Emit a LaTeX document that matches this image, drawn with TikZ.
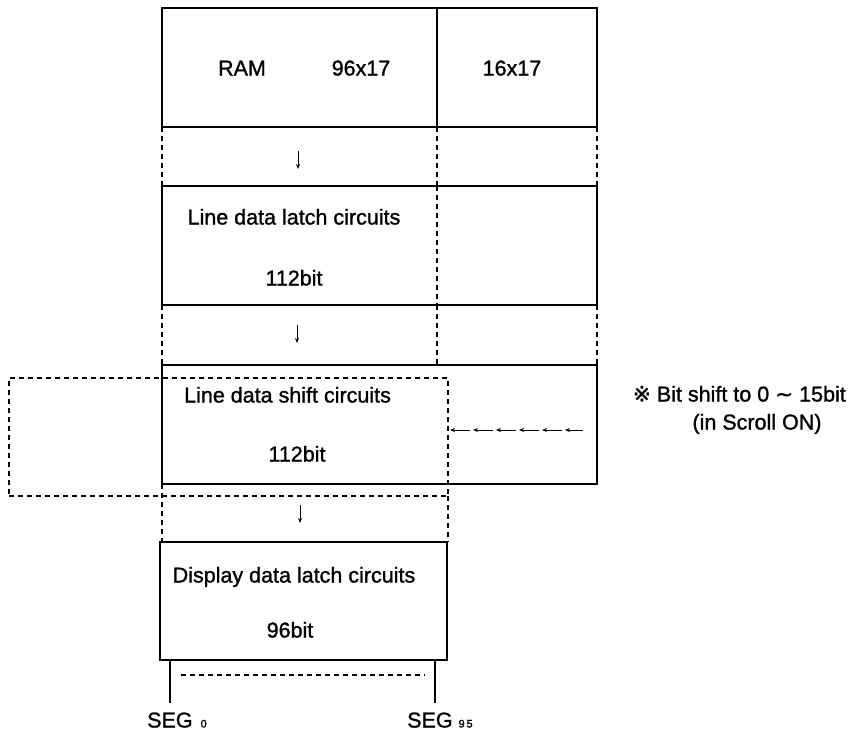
\documentclass[tikz,border=0pt]{standalone}
\usepackage{fontspec}
\setmainfont{Liberation Sans}[FakeBold=1.2]
\newfontfamily\dejavu{DejaVu Sans}[FakeBold=1.2]
\usetikzlibrary{arrows.meta}
\begin{document}
\begin{tikzpicture}[x=1pt,y=-1pt,
  box/.style={draw, line width=1.8pt, inner sep=0pt, outer sep=0pt},
  lbl/.style={font=\fontsize{21.5}{24}\selectfont, inner sep=0pt, text height=15pt, text depth=0pt},
  dsh/.style={line width=1.8pt, dash pattern=on 5pt off 4pt},
  sol/.style={line width=1.8pt},
  darr/.style={line width=0.8pt, -{Stealth[length=5pt,width=4pt]}},
  sarr/.style={line width=0.8pt, -{Stealth[length=5pt,width=4pt]}}
]
\useasboundingbox (0,0) rectangle (854,734);

% RAM box
\node[box, minimum width=435pt, minimum height=119pt] (ram) at (379.5,67.5) {};
\draw[sol] (437,8) -- (437,127);
\node[lbl] (tram) at (242,68) {RAM};
\node[lbl] (t9617) at (361,68) {96x17};
\node[lbl] (t1617) at (512,68) {16x17};

% gap 1
\foreach \xx in {162,437,597} \draw[dsh] (\xx,127) -- (\xx,186);
\coordinate (a1s) at (298,151);
\coordinate (a1e) at (298,169);
\draw[darr] (a1s) -- (a1e);

% latch box
\node[box, minimum width=435pt, minimum height=119pt] (latch) at (379.5,245.5) {};
\draw[dsh] (437,186) -- (437,305);
\node[lbl] (tlatch) at (294,217) {Line data latch circuits};
\node[lbl] (tlatchb) at (294,278) {112bit};

% gap 2
\foreach \xx in {162,437,597} \draw[dsh] (\xx,305) -- (\xx,365);
\coordinate (a2s) at (297,325);
\coordinate (a2e) at (297,343);
\draw[darr] (a2s) -- (a2e);

% shift box
\node[box, minimum width=435pt, minimum height=119pt] (shift) at (379.5,424.5) {};
\node[draw, dsh, inner sep=0pt, outer sep=0pt, minimum width=439pt, minimum height=118pt] (win) at (228.5,437) {};
\node[lbl, anchor=west] (tshift) at (184,395) {Line data shift circuits};
\node[lbl] (tshiftb) at (297,454) {112bit};

% shift arrows
\foreach \xs in {0,1,2,3,4} {
  \draw[sarr] ({470+\xs*23},430) -- ({450+\xs*23},430);
}
\coordinate (r1) at (583,430);
\coordinate (r2) at (565,430);
\draw[sarr] (r1) -- (r2);

% gap 3
\draw[dsh] (162,484) -- (162,542);
\draw[dsh] (448,496) -- (448,542);
\coordinate (a3s) at (300,505);
\coordinate (a3e) at (300,523);
\draw[darr] (a3s) -- (a3e);

% display box
\node[box, minimum width=287pt, minimum height=118pt] (disp) at (303.5,601) {};
\node[lbl] (tdisp) at (294,575) {Display data latch circuits};
\node[lbl] (tdispb) at (290,630) {96bit};

% SEG lines
\coordinate (s0) at (170,703);
\coordinate (s95) at (435,703);
\draw[sol] (disp.south -| s0) -- (s0);
\draw[sol] (disp.south -| s95) -- (s95);
\draw[dsh] (181,675) -- (425,675);
\node[lbl, anchor=west] (seg0) at (147,720) {SEG\hspace{8pt}{\fontsize{11}{12}\selectfont 0}};
\node[lbl, anchor=west] (seg95) at (407,720) {SEG\hspace{6pt}{\fontsize{11}{12}\selectfont 9\,5}};

% note
\node[lbl, anchor=east] (note1) at (846,394) {{\dejavu ※} Bit shift to 0 {\dejavu ∼} 15bit};
\node[lbl] (note2) at (757,422) {(in Scroll ON)};
\end{tikzpicture}
\end{document}
